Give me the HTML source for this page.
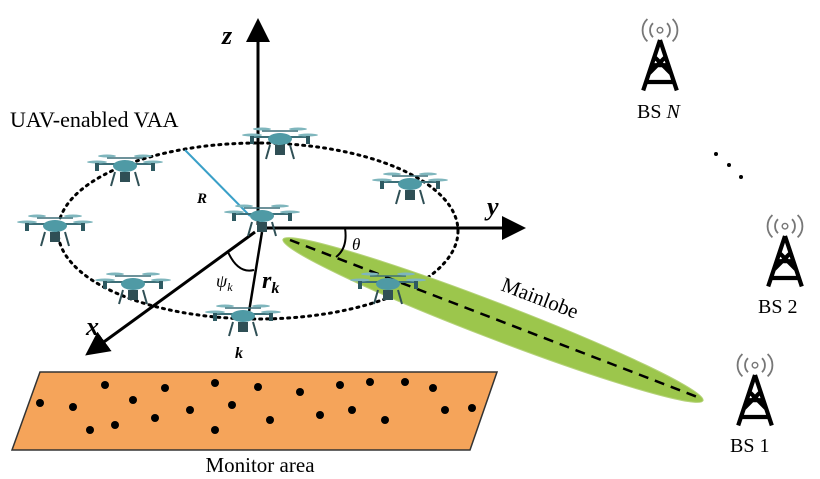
<!DOCTYPE html>
<html><head><meta charset="utf-8"><style>
body{margin:0;background:#fff}
svg{display:block;font-family:"Liberation Serif",serif}
</style></head><body>
<svg width="820" height="479" viewBox="0 0 820 479">
<defs>
<marker id="ar" markerWidth="8" markerHeight="8" refX="6" refY="4" orient="auto" markerUnits="strokeWidth"><path d="M0,0 L8,4 L0,8 Z" fill="#000"/></marker>
<g id="drone">
<line x1="-28" y1="-8" x2="28" y2="-8" stroke="#3d6f78" stroke-width="2"/>
<line x1="-18" y1="-14" x2="18" y2="-14" stroke="#3d6f78" stroke-width="1.5"/>
<ellipse cx="-28" cy="-10" rx="10" ry="1.5" fill="#7fb6bd"/>
<ellipse cx="28" cy="-10" rx="10" ry="1.5" fill="#7fb6bd"/>
<ellipse cx="-18" cy="-16" rx="9" ry="1.5" fill="#7fb6bd"/>
<ellipse cx="18" cy="-16" rx="9" ry="1.5" fill="#7fb6bd"/>
<rect x="-30" y="-9" width="4" height="8" fill="#2e5a62"/>
<rect x="26" y="-9" width="4" height="8" fill="#2e5a62"/>
<ellipse cx="0" cy="-6" rx="12" ry="6" fill="#4f9aa5"/>
<rect x="-5" y="0" width="10" height="10" fill="#2f4f55"/>
<line x1="-10" y1="0" x2="-14" y2="14" stroke="#2f4f55" stroke-width="2"/>
<line x1="10" y1="0" x2="14" y2="14" stroke="#2f4f55" stroke-width="2"/>
</g>
<g id="tower">
<path d="M0,0 L-12,36 M0,0 L12,36 M-4,12 L8,24 M4,12 L-8,24 M-10,30 L10,30 M-6,18 L6,18" stroke="#000" stroke-width="3" fill="none"/>
<circle cx="0" cy="-7" r="2" fill="none" stroke="#777" stroke-width="1"/>
<path d="M-5,-12 A7,7 0 0 0 -5,-2 M5,-12 A7,7 0 0 1 5,-2 M-9,-15 A11,11 0 0 0 -9,1 M9,-15 A11,11 0 0 1 9,1" stroke="#777" stroke-width="1.3" fill="none"/>
</g>
</defs>

<polygon points="40,372 497,372 470,450 12,450" fill="#f5a45a" stroke="#333" stroke-width="1.5"/>
<g fill="#000">
<circle cx="40" cy="403" r="4"/><circle cx="73" cy="407" r="4"/><circle cx="105" cy="385" r="4"/><circle cx="133" cy="400" r="4"/><circle cx="115" cy="425" r="4"/><circle cx="155" cy="418" r="4"/><circle cx="165" cy="388" r="4"/><circle cx="190" cy="410" r="4"/><circle cx="215" cy="383" r="4"/><circle cx="232" cy="405" r="4"/><circle cx="258" cy="387" r="4"/><circle cx="270" cy="420" r="4"/><circle cx="300" cy="392" r="4"/><circle cx="320" cy="415" r="4"/><circle cx="340" cy="385" r="4"/><circle cx="352" cy="410" r="4"/><circle cx="370" cy="382" r="4"/><circle cx="385" cy="420" r="4"/><circle cx="405" cy="382" r="4"/><circle cx="433" cy="388" r="4"/><circle cx="445" cy="410" r="4"/><circle cx="472" cy="408" r="4"/><circle cx="90" cy="430" r="4"/><circle cx="215" cy="430" r="4"/>
</g>
<text x="260" y="472" font-size="21" text-anchor="middle">Monitor area</text>

<ellipse cx="258" cy="231" rx="200" ry="88" fill="none" stroke="#000" stroke-width="3" stroke-dasharray="2,5" stroke-linecap="round"/>

<g transform="translate(493,320) rotate(21)">
<ellipse cx="0" cy="0" rx="225" ry="18" fill="#9cc64c" stroke="#b5d27a"/>
</g>
<line x1="290" y1="240" x2="700" y2="398" stroke="#000" stroke-width="2.5" stroke-dasharray="10,7"/>
<text x="500" y="290" font-size="21" transform="rotate(21 500 290)">Mainlobe</text>

<line x1="258" y1="225" x2="258" y2="24" stroke="#000" stroke-width="3" marker-end="url(#ar)"/>
<line x1="262" y1="228" x2="520" y2="228" stroke="#000" stroke-width="3" marker-end="url(#ar)"/>
<line x1="255" y1="232" x2="90" y2="352" stroke="#000" stroke-width="3" marker-end="url(#ar)"/>
<text x="222" y="44" font-size="26" font-style="italic" font-weight="bold">z</text>
<text x="487" y="215" font-size="26" font-style="italic" font-weight="bold">y</text>
<text x="86" y="335" font-size="26" font-style="italic" font-weight="bold">x</text>

<line x1="185" y1="150" x2="250" y2="216" stroke="#3aa0c8" stroke-width="2"/>
<text x="197" y="203" font-size="15" font-style="italic" font-weight="bold">R</text>
<line x1="262" y1="232" x2="248" y2="318" stroke="#000" stroke-width="2.5"/>
<path d="M228,252 Q238,274 254,270" fill="none" stroke="#000" stroke-width="2"/>
<path d="M345,228 Q348,248 336,257" fill="none" stroke="#000" stroke-width="2"/>
<text x="352" y="250" font-size="17" font-style="italic">θ</text>
<text x="216" y="287" font-size="18" font-style="italic">ψ<tspan font-size="12" dy="4">k</tspan></text>
<text x="262" y="288" font-size="24" font-style="italic" font-weight="bold">r<tspan font-size="16" dy="5">k</tspan></text>
<text x="235" y="358" font-size="16" font-style="italic" font-weight="bold">k</text>

<g>
<use href="#drone" x="125" y="172"/><use href="#drone" x="280" y="145"/><use href="#drone" x="410" y="190"/><use href="#drone" x="55" y="232"/><use href="#drone" x="262" y="222"/><use href="#drone" x="133" y="290"/><use href="#drone" x="243" y="322"/><use href="#drone" x="388" y="290"/>
</g>
<text x="10" y="127" font-size="22">UAV-enabled VAA</text>

<g transform="translate(660,40) scale(1.4)"><use href="#tower"/></g>
<text x="637" y="118" font-size="20">BS <tspan font-style="italic">N</tspan></text>
<g fill="#000"><circle cx="716" cy="154" r="2"/><circle cx="729" cy="165" r="2"/><circle cx="741" cy="177" r="2"/></g>
<g transform="translate(785,236) scale(1.4)"><use href="#tower"/></g>
<text x="758" y="313" font-size="20">BS 2</text>
<g transform="translate(755,375) scale(1.4)"><use href="#tower"/></g>
<text x="730" y="452" font-size="20">BS 1</text>
</svg>
</body></html>
